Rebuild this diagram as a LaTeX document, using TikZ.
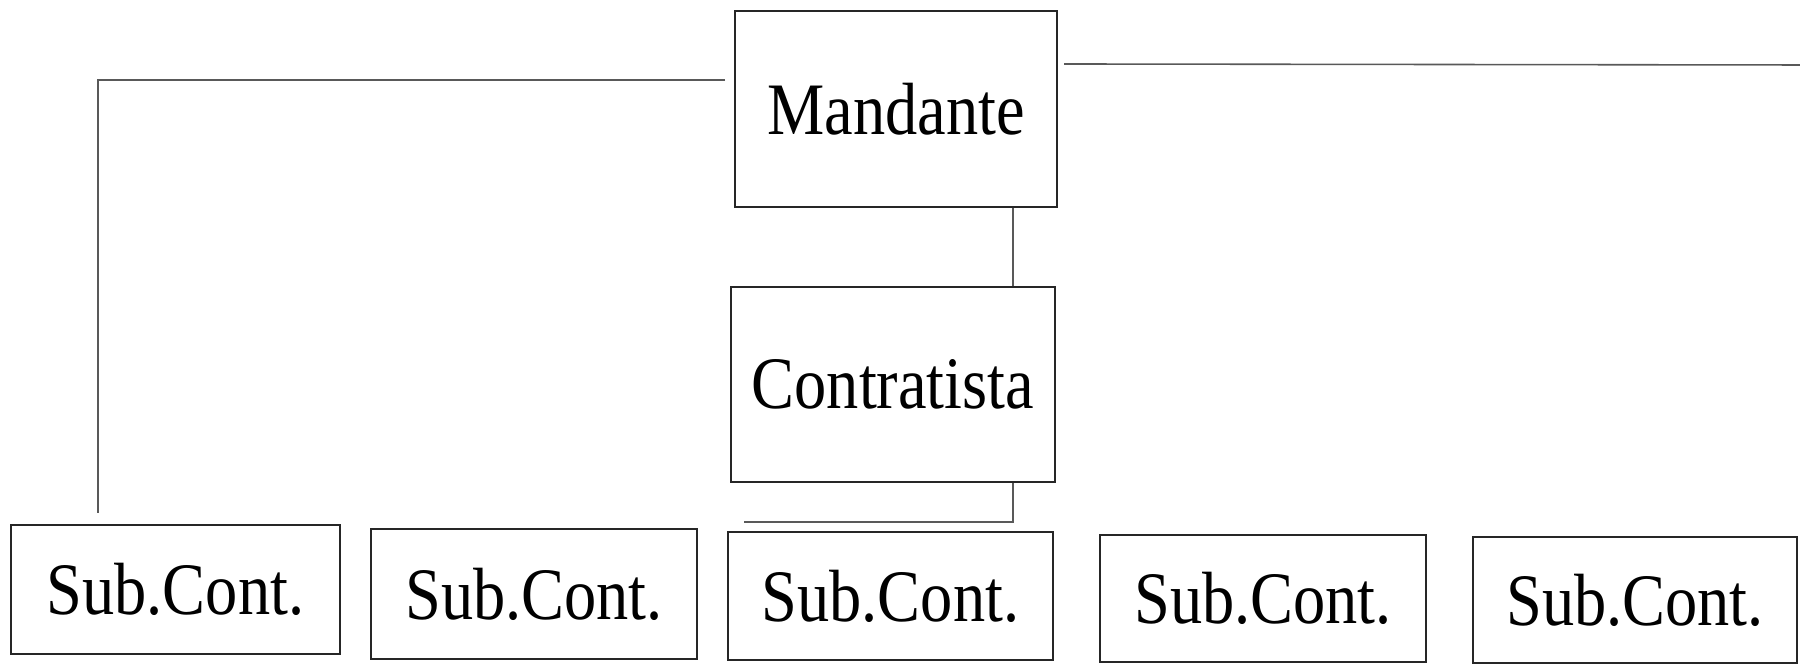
\documentclass[tikz,border=0pt]{standalone}
\usepackage{fontspec}
\setmainfont{Liberation Serif}
\begin{document}
\begin{tikzpicture}[x=0.01cm,y=-0.01cm,
  orgbox/.style={draw=black!85,line width=0.8pt,rectangle,inner sep=0pt,
    font=\fontsize{18.3}{20}\selectfont},
  link/.style={draw=black!65,line width=0.45pt}]
\useasboundingbox (0,0) rectangle (1800,665);
\newcommand{\boxtext}[1]{\scalebox{1}[1.15]{#1}}

% upper levels
\node[orgbox,minimum width=322*0.01cm,minimum height=196*0.01cm] (m) at (896,109) {\boxtext{Mandante}};
\node[orgbox,minimum width=324*0.01cm,minimum height=195*0.01cm] (c) at (893,384.5) {\boxtext{Contratista}};

% subcontractors
\node[orgbox,minimum width=329*0.01cm,minimum height=129*0.01cm] (s1) at (175.5,589.5) {\boxtext{Sub.Cont.}};
\node[orgbox,minimum width=326*0.01cm,minimum height=130*0.01cm] (s2) at (534,594) {\boxtext{Sub.Cont.}};
\node[orgbox,minimum width=325*0.01cm,minimum height=128*0.01cm] (s3) at (890.5,596) {\boxtext{Sub.Cont.}};
\node[orgbox,minimum width=326*0.01cm,minimum height=127*0.01cm] (s4) at (1263,598.5) {\boxtext{Sub.Cont.}};
\node[orgbox,minimum width=324*0.01cm,minimum height=126*0.01cm] (s5) at (1635,600) {\boxtext{Sub.Cont.}};

% connector end points
\coordinate (tap) at (1013,0);
\coordinate (cend) at (744,522);
\coordinate (lstart) at (725,80);
\coordinate (lend) at (98,513);
\coordinate (rstart) at (1064,64);
\coordinate (rend) at (1800,65);

% connectors
\draw[link] (m.south -| tap) -- (c.north -| tap);
\draw[link] (c.south -| tap) |- (cend);
\draw[link] (lstart) -| (lend);
\draw[link] (rstart) -- (rend);
\end{tikzpicture}
\end{document}
